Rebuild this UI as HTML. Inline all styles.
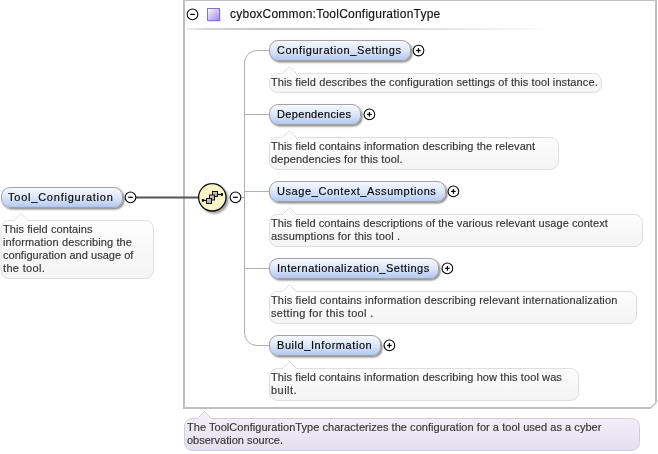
<!DOCTYPE html>
<html><head><meta charset="utf-8"><style>
html,body{margin:0;padding:0;background:#fff;}
body{width:658px;height:454px;position:relative;overflow:hidden;font-family:"Liberation Sans", sans-serif;}
svg{position:absolute;left:0;top:0;}
.pill{position:absolute;height:21px;box-sizing:border-box;border:1px solid #a3a3a3;border-radius:9px;
background:linear-gradient(to bottom,#f6f8fe 0%,#dfe8fa 45%,#b3c9f0 100%);box-shadow:1.5px 1.5px 2px rgba(0,0,0,0.45);}
.pt{position:absolute;font-size:11px;line-height:13px;color:#000;-webkit-text-stroke:0.15px #000;white-space:nowrap;will-change:transform;}
.dt{position:absolute;font-size:11px;line-height:13px;color:#333;-webkit-text-stroke:0.15px #333;white-space:nowrap;will-change:transform;}
.hd{position:absolute;font-size:12px;line-height:13px;color:#111;-webkit-text-stroke:0.15px #111;white-space:nowrap;will-change:transform;}
</style></head><body>
<svg width="658" height="454" viewBox="0 0 658 454"><defs>
<linearGradient id="docg" x1="0" y1="0" x2="0" y2="1"><stop offset="0" stop-color="#ffffff"/><stop offset="1" stop-color="#f4f4f4"/></linearGradient>
<linearGradient id="typeg" x1="0" y1="0" x2="0" y2="1"><stop offset="0" stop-color="#f4f1f9"/><stop offset="1" stop-color="#e4dfef"/></linearGradient>
<linearGradient id="sqg" x1="0" y1="0" x2="1" y2="1"><stop offset="0" stop-color="#ffffff"/><stop offset="1" stop-color="#9c88d2"/></linearGradient>
<linearGradient id="sepg" x1="0" y1="0" x2="1" y2="0"><stop offset="0" stop-color="#ececec"/><stop offset="0.06" stop-color="#d6d6d6"/><stop offset="0.2" stop-color="#c6c6c6"/><stop offset="0.35" stop-color="#c8c8c8"/><stop offset="0.62" stop-color="#dedede"/><stop offset="1" stop-color="#fbfbfb"/></linearGradient>
<linearGradient id="sqgr" x1="0" y1="0" x2="1" y2="1"><stop offset="0" stop-color="#d0d0d0"/><stop offset="1" stop-color="#a0a0a0"/></linearGradient>
<filter id="sh" x="-20%" y="-20%" width="150%" height="150%"><feGaussianBlur in="SourceAlpha" stdDeviation="1"/><feOffset dx="1.5" dy="1.5"/><feComponentTransfer><feFuncA type="linear" slope="0.38"/></feComponentTransfer><feMerge><feMergeNode/><feMergeNode in="SourceGraphic"/></feMerge></filter>
</defs>
<path d="M184,-1 L184,408 L650.5,408" fill="none" stroke="#bdbdbd" stroke-width="2"/>
<path d="M656,-1 L656,402.5" fill="none" stroke="#bdbdbd" stroke-width="2"/>
<path d="M650.5,408.3 L656.3,402.5" fill="none" stroke="#c2c2c2" stroke-width="1.4"/>
<path d="M183,0 L657,0" stroke="#bdbdbd" stroke-width="2"/>
<rect x="187" y="28" width="358" height="2" fill="url(#sepg)"/>
<circle cx="192.5" cy="14.4" r="5.35" fill="#fff" stroke="#000" stroke-width="1.05"/><line x1="190.2" y1="14.4" x2="194.8" y2="14.4" stroke="#000" stroke-width="1.2"/>
<rect x="208.5" y="9.5" width="12" height="12" fill="#c8c8c8"/><rect x="207.5" y="8.5" width="12" height="12" fill="url(#sqg)" stroke="#8a70c8" stroke-width="1"/>
<line x1="136" y1="197.5" x2="199" y2="197.5" stroke="#555" stroke-width="2"/>
<line x1="241" y1="197.5" x2="245" y2="197.5" stroke="#b0b0b0" stroke-width="1"/>
<path d="M269,50.5 L257,50.5 A12.5,12.5 0 0 0 244.5,63 L244.5,333 A12.5,12.5 0 0 0 257,345.5 L269,345.5" fill="none" stroke="#b0b0b0" stroke-width="1"/>
<line x1="244.5" y1="114.5" x2="269" y2="114.5" stroke="#b0b0b0" stroke-width="1"/>
<line x1="244.5" y1="191.5" x2="269" y2="191.5" stroke="#b0b0b0" stroke-width="1"/>
<line x1="244.5" y1="268.5" x2="269" y2="268.5" stroke="#b0b0b0" stroke-width="1"/>
<circle cx="212.3" cy="197.3" r="13.7" fill="#fbf6c8" stroke="#111" stroke-width="1.3" filter="url(#sh)"/>
<line x1="203" y1="200.4" x2="207" y2="200.4" stroke="#000" stroke-width="1.2"/>
<line x1="218" y1="194.5" x2="222" y2="194.5" stroke="#000" stroke-width="1.2"/>
<rect x="201.9" y="199" width="1.9" height="2.8" fill="#000"/>
<rect x="221" y="193.1" width="1.9" height="2.8" fill="#000"/>
<rect x="212.5" y="191.5" width="5" height="5" fill="url(#sqgr)" stroke="#111" stroke-width="1"/>
<rect x="209.5" y="195" width="5" height="5" fill="url(#sqgr)" stroke="#111" stroke-width="1"/>
<rect x="206.5" y="198.5" width="5" height="5" fill="url(#sqgr)" stroke="#111" stroke-width="1"/>
<circle cx="235.5" cy="197.3" r="5.35" fill="#fff" stroke="#000" stroke-width="1.05"/><line x1="233.2" y1="197.3" x2="237.8" y2="197.3" stroke="#000" stroke-width="1.2"/>
<circle cx="130.5" cy="197.3" r="5.35" fill="#fff" stroke="#000" stroke-width="1.05"/><line x1="128.2" y1="197.3" x2="132.8" y2="197.3" stroke="#000" stroke-width="1.2"/>
<circle cx="418.5" cy="50.5" r="5.35" fill="#fff" stroke="#000" stroke-width="1.05"/><line x1="416.2" y1="50.5" x2="420.8" y2="50.5" stroke="#000" stroke-width="1.2"/><line x1="418.5" y1="48.2" x2="418.5" y2="52.8" stroke="#000" stroke-width="1.2"/>
<circle cx="369.4" cy="114.4" r="5.35" fill="#fff" stroke="#000" stroke-width="1.05"/><line x1="367.09999999999997" y1="114.4" x2="371.7" y2="114.4" stroke="#000" stroke-width="1.2"/><line x1="369.4" y1="112.10000000000001" x2="369.4" y2="116.7" stroke="#000" stroke-width="1.2"/>
<circle cx="453.4" cy="191.4" r="5.35" fill="#fff" stroke="#000" stroke-width="1.05"/><line x1="451.09999999999997" y1="191.4" x2="455.7" y2="191.4" stroke="#000" stroke-width="1.2"/><line x1="453.4" y1="189.1" x2="453.4" y2="193.70000000000002" stroke="#000" stroke-width="1.2"/>
<circle cx="447.4" cy="268.4" r="5.35" fill="#fff" stroke="#000" stroke-width="1.05"/><line x1="445.09999999999997" y1="268.4" x2="449.7" y2="268.4" stroke="#000" stroke-width="1.2"/><line x1="447.4" y1="266.09999999999997" x2="447.4" y2="270.7" stroke="#000" stroke-width="1.2"/>
<circle cx="389.4" cy="345.4" r="5.35" fill="#fff" stroke="#000" stroke-width="1.05"/><line x1="387.09999999999997" y1="345.4" x2="391.7" y2="345.4" stroke="#000" stroke-width="1.2"/><line x1="389.4" y1="343.09999999999997" x2="389.4" y2="347.7" stroke="#000" stroke-width="1.2"/>
<path d="M9,220.5 L14,220.5 L21,213.5 L28,220.5 L145.5,220.5 A8,8 0 0 1 153.5,228.5 L153.5,270.5 A8,8 0 0 1 145.5,278.5 L9,278.5 A8,8 0 0 1 1,270.5 L1,228.5 A8,8 0 0 1 9,220.5 Z" fill="url(#docg)" stroke="#dedede" stroke-width="1"/>
<path d="M277.5,73.5 L282.5,73.5 L289.5,66.5 L296.5,73.5 L593.5,73.5 A8,8 0 0 1 601.5,81.5 L601.5,84.5 A8,8 0 0 1 593.5,92.5 L277.5,92.5 A8,8 0 0 1 269.5,84.5 L269.5,81.5 A8,8 0 0 1 277.5,73.5 Z" fill="url(#docg)" stroke="#dedede" stroke-width="1"/>
<path d="M277.5,137.5 L282.5,137.5 L289.5,130.5 L296.5,137.5 L550.5,137.5 A8,8 0 0 1 558.5,145.5 L558.5,161.5 A8,8 0 0 1 550.5,169.5 L277.5,169.5 A8,8 0 0 1 269.5,161.5 L269.5,145.5 A8,8 0 0 1 277.5,137.5 Z" fill="url(#docg)" stroke="#dedede" stroke-width="1"/>
<path d="M277.5,214.5 L282.5,214.5 L289.5,207.5 L296.5,214.5 L634.5,214.5 A8,8 0 0 1 642.5,222.5 L642.5,238.5 A8,8 0 0 1 634.5,246.5 L277.5,246.5 A8,8 0 0 1 269.5,238.5 L269.5,222.5 A8,8 0 0 1 277.5,214.5 Z" fill="url(#docg)" stroke="#dedede" stroke-width="1"/>
<path d="M277.5,291.5 L282.5,291.5 L289.5,284.5 L296.5,291.5 L628.5,291.5 A8,8 0 0 1 636.5,299.5 L636.5,315.5 A8,8 0 0 1 628.5,323.5 L277.5,323.5 A8,8 0 0 1 269.5,315.5 L269.5,299.5 A8,8 0 0 1 277.5,291.5 Z" fill="url(#docg)" stroke="#dedede" stroke-width="1"/>
<path d="M277.5,368.5 L282.5,368.5 L289.5,361.5 L296.5,368.5 L570.5,368.5 A8,8 0 0 1 578.5,376.5 L578.5,392.5 A8,8 0 0 1 570.5,400.5 L277.5,400.5 A8,8 0 0 1 269.5,392.5 L269.5,376.5 A8,8 0 0 1 277.5,368.5 Z" fill="url(#docg)" stroke="#dedede" stroke-width="1"/>
<path d="M192.5,418.5 L197.5,418.5 L204.5,411.5 L211.5,418.5 L631.5,418.5 A8,8 0 0 1 639.5,426.5 L639.5,442.5 A8,8 0 0 1 631.5,450.5 L192.5,450.5 A8,8 0 0 1 184.5,442.5 L184.5,426.5 A8,8 0 0 1 192.5,418.5 Z" fill="url(#typeg)" stroke="#d2cbe0" stroke-width="1"/>
</svg>
<div class="dt" style="left:3.2px;top:222.6px;letter-spacing:0.08px">This field contains</div>
<div class="dt" style="left:3.2px;top:235.6px;letter-spacing:0.12px">information describing the</div>
<div class="dt" style="left:3.2px;top:248.6px;letter-spacing:0.03px">configuration and usage of</div>
<div class="dt" style="left:3.2px;top:261.6px;letter-spacing:0.33px">the tool.</div>
<div class="dt" style="left:271.2px;top:75.6px;letter-spacing:0.1px">This field describes the configuration settings of this tool instance.</div>
<div class="dt" style="left:271.2px;top:139.6px;letter-spacing:0.09px">This field contains information describing the relevant</div>
<div class="dt" style="left:271.2px;top:152.6px;letter-spacing:0.12px">dependencies for this tool.</div>
<div class="dt" style="left:271.2px;top:216.6px;letter-spacing:0.06px">This field contains descriptions of the various relevant usage context</div>
<div class="dt" style="left:271.2px;top:229.6px;letter-spacing:0.17px">assumptions for this tool .</div>
<div class="dt" style="left:271.2px;top:293.6px;letter-spacing:0.15px">This field contains information describing relevant internationalization</div>
<div class="dt" style="left:271.2px;top:306.6px;letter-spacing:0.31px">setting for this tool .</div>
<div class="dt" style="left:271.2px;top:370.6px;letter-spacing:0.09px">This field contains information describing how this tool was</div>
<div class="dt" style="left:271.2px;top:383.6px;letter-spacing:0.45px">built.</div>
<div class="dt" style="left:187.3px;top:420.6px;letter-spacing:0.045px">The ToolConfigurationType characterizes the configuration for a tool used as a cyber</div>
<div class="dt" style="left:187.3px;top:433.6px;letter-spacing:0.0px">observation source.</div>
<div class="pill" style="left:1px;top:187px;width:122px"></div>
<div class="pt" style="left:7.6px;top:191.3px;letter-spacing:0.77px">Tool_Configuration</div>
<div class="pill" style="left:269px;top:40px;width:142px"></div>
<div class="pt" style="left:276.7px;top:44.3px;letter-spacing:0.6px">Configuration_Settings</div>
<div class="pill" style="left:269px;top:104px;width:92px"></div>
<div class="pt" style="left:276.7px;top:108.3px;letter-spacing:0.335px">Dependencies</div>
<div class="pill" style="left:269px;top:181px;width:177px"></div>
<div class="pt" style="left:276.7px;top:185.3px;letter-spacing:0.58px">Usage_Context_Assumptions</div>
<div class="pill" style="left:269px;top:258px;width:170px"></div>
<div class="pt" style="left:276.7px;top:262.3px;letter-spacing:0.5px">Internationalization_Settings</div>
<div class="pill" style="left:269px;top:335px;width:112px"></div>
<div class="pt" style="left:276.7px;top:339.3px;letter-spacing:0.57px">Build_Information</div>
<div class="hd" style="left:230px;top:8.1px;letter-spacing:0.235px">cyboxCommon:ToolConfigurationType</div>
</body></html>
